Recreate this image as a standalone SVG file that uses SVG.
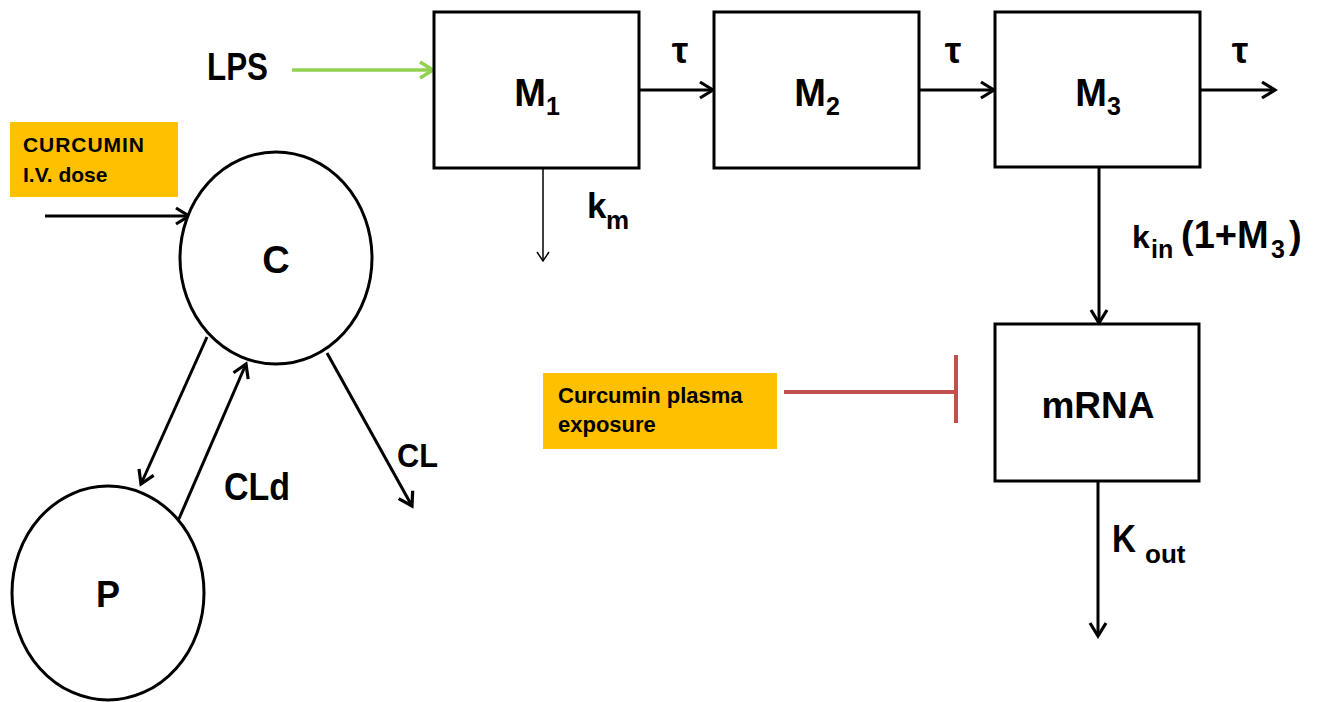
<svg xmlns="http://www.w3.org/2000/svg" width="1327" height="702" viewBox="0 0 1327 702">
<style>
text{font-family:"Liberation Sans",Arial,sans-serif;font-weight:bold;fill:#000}
.box{fill:#fff;stroke:#000;stroke-width:3}
.note{fill:#FFC000;stroke:none}
.ln{fill:none;stroke:#000;stroke-width:3}
.thin{fill:none;stroke:#000;stroke-width:1.5}
.green{fill:none;stroke:#92D050;stroke-width:3.5}
.red{fill:none;stroke:#C0504D;stroke-width:4}
</style>
<defs>
<marker id="ah" markerUnits="userSpaceOnUse" viewBox="0 0 18 20" markerWidth="18" markerHeight="20" refX="15" refY="10" orient="auto">
<path d="M2,2 L15,10 L2,18" fill="none" stroke="#000" stroke-width="3.2"/>
</marker>
<marker id="ahg" markerUnits="userSpaceOnUse" viewBox="0 0 18 20" markerWidth="18" markerHeight="20" refX="15" refY="10" orient="auto">
<path d="M2,2 L15,10 L2,18" fill="none" stroke="#92D050" stroke-width="3.5"/>
</marker>
<marker id="aht" markerUnits="userSpaceOnUse" viewBox="0 0 14 16" markerWidth="14" markerHeight="16" refX="11" refY="8" orient="auto">
<path d="M2,2 L11,8 L2,14" fill="none" stroke="#000" stroke-width="1.5"/>
</marker>
</defs>
<rect width="1327" height="702" fill="#fff"/>

<g id="connectors">
<line class="green" x1="292" y1="70" x2="433" y2="70" marker-end="url(#ahg)"/>
<line class="ln" x1="45" y1="216" x2="189" y2="216" marker-end="url(#ah)"/>
<line class="ln" x1="639" y1="90" x2="713" y2="90" marker-end="url(#ah)"/>
<line class="ln" x1="919" y1="90" x2="994" y2="90" marker-end="url(#ah)"/>
<line class="ln" x1="1200" y1="90" x2="1275" y2="90" marker-end="url(#ah)"/>
<line class="thin" x1="543" y1="168" x2="543" y2="261" marker-end="url(#aht)"/>
<line class="ln" x1="1099" y1="167" x2="1099" y2="323" marker-end="url(#ah)"/>
<line class="ln" x1="1098" y1="481" x2="1098" y2="636" marker-end="url(#ah)"/>
<line class="ln" x1="207" y1="337" x2="141" y2="484" marker-end="url(#ah)"/>
<line class="ln" x1="178" y1="521" x2="246" y2="364" marker-end="url(#ah)"/>
<line class="ln" x1="327" y1="353" x2="412" y2="506" marker-end="url(#ah)"/>
<line class="red" x1="784" y1="392" x2="956" y2="392"/>
<line class="red" x1="956" y1="355" x2="956" y2="423"/>
</g>

<g id="curcumin-dose">
<rect class="note" x="10" y="122" width="168" height="75"/>
<text x="23" y="152" font-size="21" textLength="121">CURCUMIN</text>
<text x="23" y="182" font-size="21">I.V. dose</text>
</g>

<g id="lps">
<text x="207" y="80" font-size="39" textLength="61" lengthAdjust="spacingAndGlyphs">LPS</text>
</g>

<g id="node-C">
<ellipse class="box" cx="276" cy="258" rx="96" ry="106"/>
<text x="276" y="273" font-size="38" text-anchor="middle">C</text>
</g>

<g id="node-P">
<ellipse class="box" cx="108" cy="593" rx="96" ry="107"/>
<text x="108" y="607" font-size="36" text-anchor="middle">P</text>
</g>

<g id="node-M1">
<rect class="box" x="434" y="12" width="205" height="156"/>
<text x="537" y="106" font-size="38" text-anchor="middle">M<tspan font-size="25" dy="9">1</tspan></text>
</g>

<g id="node-M2">
<rect class="box" x="714" y="12" width="205" height="156"/>
<text x="817" y="106" font-size="38" text-anchor="middle">M<tspan font-size="25" dy="9">2</tspan></text>
</g>

<g id="node-M3">
<rect class="box" x="995" y="12" width="205" height="155"/>
<text x="1098" y="106" font-size="38" text-anchor="middle">M<tspan font-size="25" dy="9">3</tspan></text>
</g>

<g id="node-mRNA">
<rect class="box" x="995" y="324" width="204" height="157"/>
<text x="1098" y="418" font-size="37" text-anchor="middle">mRNA</text>
</g>

<g id="curcumin-exposure">
<rect class="note" x="543" y="373" width="234" height="76"/>
<text x="558" y="403" font-size="22">Curcumin plasma</text>
<text x="558" y="432" font-size="22">exposure</text>
</g>

<g id="labels">
<text x="680" y="63" font-size="37" text-anchor="middle">τ</text>
<text x="953" y="63" font-size="37" text-anchor="middle">τ</text>
<text x="1240" y="63" font-size="37" text-anchor="middle">τ</text>
<text x="587" y="218" font-size="35">k</text>
<text x="606" y="229" font-size="26">m</text>
<text x="224" y="500" font-size="38" textLength="66" lengthAdjust="spacingAndGlyphs">CLd</text>
<text x="397" y="467" font-size="34" textLength="41" lengthAdjust="spacingAndGlyphs">CL</text>
<text x="1132" y="248" font-size="32">k</text>
<text x="1151" y="258" font-size="25">in</text>
<text x="1181" y="248" font-size="38">(1+M</text>
<text x="1271" y="258" font-size="25">3</text>
<text x="1289" y="248" font-size="38">)</text>
<text x="1112" y="552" font-size="38" textLength="24" lengthAdjust="spacingAndGlyphs">K</text>
<text x="1145" y="563" font-size="26">out</text>
</g>
</svg>
